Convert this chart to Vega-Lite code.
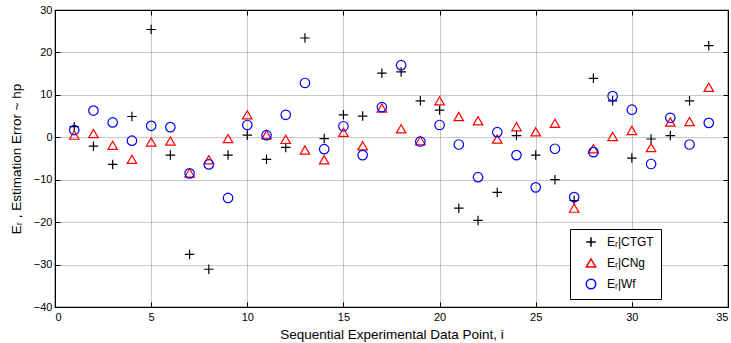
{
  "$schema": "https://vega.github.io/schema/vega-lite/v6.json",
  "width": 673,
  "height": 297,
  "autosize": {"type": "none"},
  "padding": {"left": 55, "top": 10, "right": 3, "bottom": 36},
  "background": "white",
  "config": {
    "font": "Liberation Sans",
    "view": {"stroke": "black", "strokeWidth": 1.2},
    "axis": {
      "labelFont": "Liberation Sans",
      "labelFontSize": 11,
      "labelColor": "black",
      "titleFont": "Liberation Sans",
      "titleFontSize": 13.5,
      "titleFontWeight": "normal",
      "titleColor": "black",
      "domainColor": "black",
      "tickColor": "black",
      "gridColor": "#909090",
      "gridDash": [1, 1],
      "gridWidth": 1
    }
  },
  "resolve": {"axis": {"x": "independent", "y": "independent"}},
  "data": {
    "values": [
      {"i": 1, "s": "CTGT", "e": 2.5}, {"i": 1, "s": "CNg", "e": 0.5}, {"i": 1, "s": "Wf", "e": 1.7},
      {"i": 2, "s": "CTGT", "e": -2.1}, {"i": 2, "s": "CNg", "e": 0.9}, {"i": 2, "s": "Wf", "e": 6.3},
      {"i": 3, "s": "CTGT", "e": -6.4}, {"i": 3, "s": "CNg", "e": -1.9}, {"i": 3, "s": "Wf", "e": 3.5},
      {"i": 4, "s": "CTGT", "e": 4.9}, {"i": 4, "s": "CNg", "e": -5.2}, {"i": 4, "s": "Wf", "e": -0.8},
      {"i": 5, "s": "CTGT", "e": 25.4}, {"i": 5, "s": "CNg", "e": -1.1}, {"i": 5, "s": "Wf", "e": 2.7},
      {"i": 6, "s": "CTGT", "e": -4.2}, {"i": 6, "s": "CNg", "e": -0.9}, {"i": 6, "s": "Wf", "e": 2.4},
      {"i": 7, "s": "CTGT", "e": -27.6}, {"i": 7, "s": "CNg", "e": -8.4}, {"i": 7, "s": "Wf", "e": -8.5},
      {"i": 8, "s": "CTGT", "e": -31.1}, {"i": 8, "s": "CNg", "e": -5.3}, {"i": 8, "s": "Wf", "e": -6.4},
      {"i": 9, "s": "CTGT", "e": -4.2}, {"i": 9, "s": "CNg", "e": -0.3}, {"i": 9, "s": "Wf", "e": -14.3},
      {"i": 10, "s": "CTGT", "e": 0.5}, {"i": 10, "s": "CNg", "e": 5.3}, {"i": 10, "s": "Wf", "e": 2.9},
      {"i": 11, "s": "CTGT", "e": -5.2}, {"i": 11, "s": "CNg", "e": 0.6}, {"i": 11, "s": "Wf", "e": 0.5},
      {"i": 12, "s": "CTGT", "e": -2.4}, {"i": 12, "s": "CNg", "e": -0.5}, {"i": 12, "s": "Wf", "e": 5.3},
      {"i": 13, "s": "CTGT", "e": 23.4}, {"i": 13, "s": "CNg", "e": -3.0}, {"i": 13, "s": "Wf", "e": 12.8},
      {"i": 14, "s": "CTGT", "e": -0.3}, {"i": 14, "s": "CNg", "e": -5.3}, {"i": 14, "s": "Wf", "e": -2.8},
      {"i": 15, "s": "CTGT", "e": 5.3}, {"i": 15, "s": "CNg", "e": 1.2}, {"i": 15, "s": "Wf", "e": 2.6},
      {"i": 16, "s": "CTGT", "e": 5.0}, {"i": 16, "s": "CNg", "e": -2.0}, {"i": 16, "s": "Wf", "e": -4.2},
      {"i": 17, "s": "CTGT", "e": 15.1}, {"i": 17, "s": "CNg", "e": 6.9}, {"i": 17, "s": "Wf", "e": 7.1},
      {"i": 18, "s": "CTGT", "e": 15.4}, {"i": 18, "s": "CNg", "e": 2.0}, {"i": 18, "s": "Wf", "e": 17.0},
      {"i": 19, "s": "CTGT", "e": 8.6}, {"i": 19, "s": "CNg", "e": -0.8}, {"i": 19, "s": "Wf", "e": -1.0},
      {"i": 20, "s": "CTGT", "e": 6.4}, {"i": 20, "s": "CNg", "e": 8.6}, {"i": 20, "s": "Wf", "e": 2.9},
      {"i": 21, "s": "CTGT", "e": -16.7}, {"i": 21, "s": "CNg", "e": 4.9}, {"i": 21, "s": "Wf", "e": -1.7},
      {"i": 22, "s": "CTGT", "e": -19.6}, {"i": 22, "s": "CNg", "e": 3.9}, {"i": 22, "s": "Wf", "e": -9.4},
      {"i": 23, "s": "CTGT", "e": -13.0}, {"i": 23, "s": "CNg", "e": -0.4}, {"i": 23, "s": "Wf", "e": 1.2},
      {"i": 24, "s": "CTGT", "e": 0.4}, {"i": 24, "s": "CNg", "e": 2.5}, {"i": 24, "s": "Wf", "e": -4.2},
      {"i": 25, "s": "CTGT", "e": -4.2}, {"i": 25, "s": "CNg", "e": 1.3}, {"i": 25, "s": "Wf", "e": -11.8},
      {"i": 26, "s": "CTGT", "e": -10.0}, {"i": 26, "s": "CNg", "e": 3.3}, {"i": 26, "s": "Wf", "e": -2.7},
      {"i": 27, "s": "CTGT", "e": -14.9}, {"i": 27, "s": "CNg", "e": -16.7}, {"i": 27, "s": "Wf", "e": -14.1},
      {"i": 28, "s": "CTGT", "e": 13.9}, {"i": 28, "s": "CNg", "e": -2.7}, {"i": 28, "s": "Wf", "e": -3.5},
      {"i": 29, "s": "CTGT", "e": 8.6}, {"i": 29, "s": "CNg", "e": 0.2}, {"i": 29, "s": "Wf", "e": 9.7},
      {"i": 30, "s": "CTGT", "e": -4.9}, {"i": 30, "s": "CNg", "e": 1.6}, {"i": 30, "s": "Wf", "e": 6.5},
      {"i": 31, "s": "CTGT", "e": -0.4}, {"i": 31, "s": "CNg", "e": -2.4}, {"i": 31, "s": "Wf", "e": -6.3},
      {"i": 32, "s": "CTGT", "e": 0.4}, {"i": 32, "s": "CNg", "e": 3.6}, {"i": 32, "s": "Wf", "e": 4.6},
      {"i": 33, "s": "CTGT", "e": 8.6}, {"i": 33, "s": "CNg", "e": 3.7}, {"i": 33, "s": "Wf", "e": -1.7},
      {"i": 34, "s": "CTGT", "e": 21.6}, {"i": 34, "s": "CNg", "e": 11.8}, {"i": 34, "s": "Wf", "e": 3.4}
    ]
  },
  "layer": [
    {
      "mark": {"type": "point", "filled": false, "strokeWidth": 1.2, "size": 90, "opacity": 1},
      "encoding": {
        "x": {
          "field": "i", "type": "quantitative",
          "scale": {"domain": [0, 35], "nice": false, "zero": false},
          "axis": {"orient": "bottom", "values": [0, 5, 10, 15, 20, 25, 30, 35], "tickSize": -5, "labelPadding": 9, "title": "Sequential Experimental Data Point, i", "titlePadding": 5, "grid": true, "domain": true}
        },
        "y": {
          "field": "e", "type": "quantitative",
          "scale": {"domain": [-40, 30], "nice": false, "zero": false},
          "axis": {"orient": "left", "values": [-40, -30, -20, -10, 0, 10, 20, 30], "tickSize": -5, "labelPadding": 8, "title": "Eᵣ , Estimation Error ~ hp", "titlePadding": 10, "grid": true}
        },
        "color": {
          "field": "s", "type": "nominal",
          "scale": {"domain": ["CTGT", "CNg", "Wf"], "range": ["#000000", "#ff0000", "#0000ff"]},
          "legend": {
            "orient": "none", "legendX": 515, "legendY": 219,
            "title": null,
            "strokeColor": "black", "fillColor": "white",
            "padding": 7, "rowPadding": 5,
            "labelFont": "Liberation Sans", "labelFontSize": 12, "labelColor": "black",
            "symbolStrokeWidth": 1.5, "symbolSize": 90, "symbolFillColor": "transparent",
            "labelExpr": "'Eᵣ|' + datum.label",
            "symbolOffset": 8, "labelOffset": 10
          }
        },
        "shape": {
          "field": "s", "type": "nominal",
          "scale": {"domain": ["CTGT", "CNg", "Wf"], "range": ["M-1,0H1M0,-1V1", "triangle-up", "circle"]},
          "legend": null
        }
      }
    },
    {
      "mark": {"type": "point", "opacity": 0},
      "encoding": {
        "x": {"field": "i", "type": "quantitative", "axis": {"orient": "top", "values": [0, 5, 10, 15, 20, 25, 30, 35], "tickSize": -5, "labels": false, "title": null, "grid": false}},
        "y": {"field": "e", "type": "quantitative", "axis": {"orient": "right", "values": [-40, -30, -20, -10, 0, 10, 20, 30], "tickSize": -5, "labels": false, "title": null, "grid": false}}
      }
    }
  ]
}
